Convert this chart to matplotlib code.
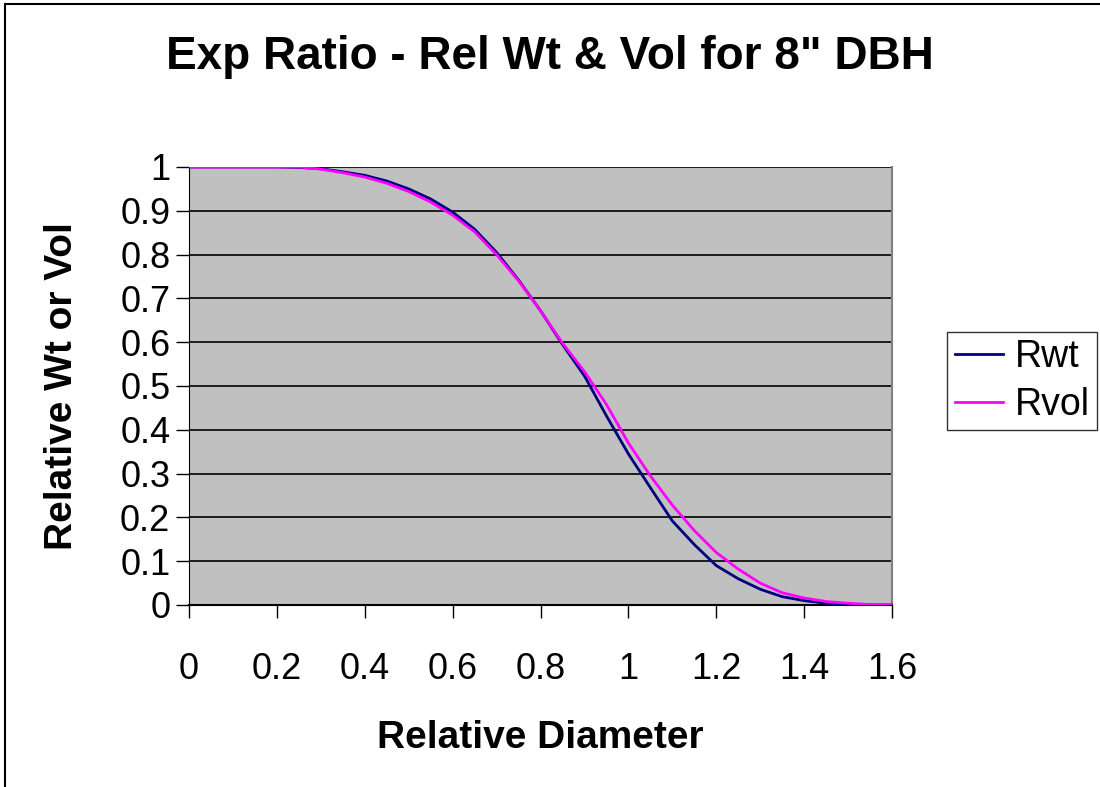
import numpy as np
import matplotlib
matplotlib.use('Agg')
import matplotlib.pyplot as plt
from matplotlib.patches import Rectangle

plt.rcParams['font.family'] = ['Liberation Sans', 'DejaVu Sans']

# relative diameter and relative weight / volume curves
rel_diam = [0.00, 0.05, 0.10, 0.15, 0.20, 0.25, 0.30, 0.35, 0.40, 0.45, 0.50,
            0.55, 0.60, 0.65, 0.70, 0.75, 0.80, 0.85, 0.90, 0.95, 1.00,
            1.05, 1.10, 1.15, 1.20, 1.25, 1.30, 1.35, 1.40, 1.45, 1.50,
            1.55, 1.60]
rwt = [1.000, 1.000, 1.000, 1.000, 1.000, 0.999, 0.996, 0.989, 0.981, 0.968, 0.950,
       0.927, 0.897, 0.858, 0.805, 0.742, 0.672, 0.595, 0.523, 0.432, 0.345,
       0.268, 0.192, 0.138, 0.090, 0.060, 0.036, 0.019, 0.010, 0.004, 0.001,
       0.000, 0.000]
rvol = [1.000, 1.000, 1.000, 1.000, 1.000, 1.000, 0.995, 0.987, 0.977, 0.963, 0.944,
        0.920, 0.890, 0.852, 0.800, 0.740, 0.672, 0.598, 0.533, 0.458, 0.370,
        0.295, 0.228, 0.170, 0.120, 0.082, 0.050, 0.028, 0.016, 0.008, 0.004,
        0.001, 0.000]

x_ticks = [0, 0.2, 0.4, 0.6, 0.8, 1, 1.2, 1.4, 1.6]
x_labels = ['0', '0.2', '0.4', '0.6', '0.8', '1', '1.2', '1.4', '1.6']
y_ticks = [0, 0.1, 0.2, 0.3, 0.4, 0.5, 0.6, 0.7, 0.8, 0.9, 1]
y_labels = ['0', '0.1', '0.2', '0.3', '0.4', '0.5', '0.6', '0.7', '0.8', '0.9', '1']

W, H = 1100, 787
fig = plt.figure(figsize=(W / 100, H / 100), dpi=100)
fig.patch.set_facecolor('white')

# chart area border
fig.patches.append(Rectangle((5 / W, -0.05), 1.2, 1 - 4 / H + 0.05,
                             transform=fig.transFigure, fill=False,
                             edgecolor='black', linewidth=1.5))

ax = fig.add_axes([189 / W, 1 - 605 / H, (892 - 189) / W, (605 - 167) / H])
ax.set_facecolor('#c0c0c0')

for yv in y_ticks[1:]:
    ax.axhline(yv, color='black', linewidth=1.2, zorder=1)

ax.plot(rel_diam, rwt, color='#000080', linewidth=2, label='Rwt', zorder=3)
ax.plot(rel_diam, rvol, color='#ff00ff', linewidth=2, label='Rvol', zorder=3)

ax.set_xlim(0, 1.6)
ax.set_ylim(0, 1)
ax.set_xticks(x_ticks)
ax.set_xticklabels(x_labels)
ax.set_yticks(y_ticks)
ax.set_yticklabels(y_labels)
ax.tick_params(axis='x', direction='out', length=9.5, width=1, pad=24, labelsize=26)
ax.tick_params(axis='y', direction='out', length=9.5, width=1, pad=4, labelsize=26)

ax.spines['top'].set_visible(False)
ax.spines['right'].set_color('#808080')
ax.spines['right'].set_linewidth(1.5)
ax.spines['left'].set_color('black')
ax.spines['bottom'].set_color('black')
ax.spines['bottom'].set_linewidth(1.5)

ax.set_xlabel('Relative Diameter', fontsize=28, fontweight='bold', labelpad=24)
ax.set_ylabel('Relative Wt or Vol', fontsize=28, fontweight='bold', labelpad=29)

fig.text(550 / W, 1 - 57 / H, 'Exp Ratio - Rel Wt & Vol for 8" DBH',
         ha='center', va='center', fontsize=33, fontweight='bold')

leg = fig.legend(loc='upper left', bbox_to_anchor=(947 / W, 1 - 332 / H),
                 fontsize=27, frameon=True, fancybox=False, handlelength=1.3,
                 handletextpad=0.3, borderpad=0.2, labelspacing=0.3,
                 borderaxespad=0)
leg.get_frame().set_edgecolor('black')
leg.get_frame().set_linewidth(1)

fig.savefig('out.png', dpi=100)
